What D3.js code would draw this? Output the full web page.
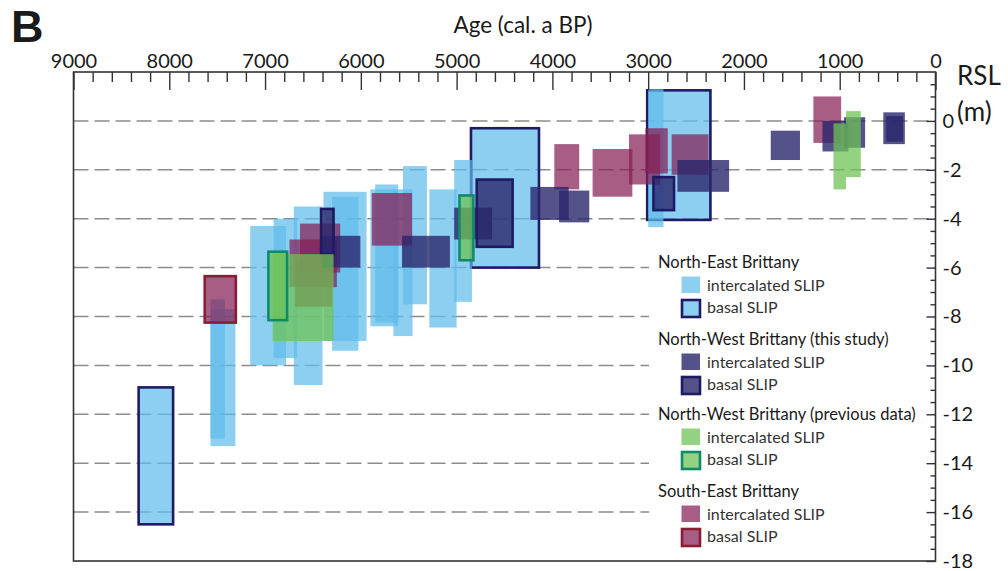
<!DOCTYPE html>
<html>
<head>
<meta charset="utf-8">
<script src="https://cdn.jsdelivr.net/npm/d3@7"></script>
<style>
  html, body { margin: 0; padding: 0; background: #fff; }
  svg { display: block; font-family: Lato, "Open Sans", sans-serif; }
</style>
</head>
<body>
<svg id="chart" width="1008" height="571"></svg>
<script>
// ---- Data: [older age, younger age, RSL top, RSL bottom] (cal. a BP, m) ----
const neBasal = [
  [8320, 7960, -10.9, -16.5],
  [4850, 4140, -0.3, -6.0],
  [3010, 2350, 1.25, -4.05]
];
const neIntercalated = [
  [7570, 7310, -7.7, -13.3],
  [7570, 7420, -7.3, -13.0],
  [7155, 6780, -4.3, -10.0],
  [6910, 6665, -4.0, -9.7],
  [6700, 6400, -3.5, -10.8],
  [6390, 5940, -2.9, -9.0],
  [6300, 6025, -3.1, -9.4],
  [5900, 5610, -2.8, -8.4],
  [5850, 5610, -2.6, -8.25],
  [5660, 5460, -2.8, -8.8],
  [5560, 5310, -1.85, -7.5],
  [5285, 5000, -2.8, -8.45],
  [5025, 4840, -1.6, -7.4],
  [3000, 2840, 1.3, -4.35]
];
const seIntercalated = [
  [6635, 6215, -4.2, -6.2],
  [6745, 6250, -4.85, -6.8],
  [6685, 6300, -5.55, -7.6],
  [5885, 5465, -2.95, -5.1],
  [3980, 3720, -0.95, -2.8],
  [3580, 3165, -1.15, -3.1],
  [3200, 2875, -0.55, -2.6],
  [3030, 2795, -0.3, -2.15],
  [2755, 2370, -0.55, -2.2],
  [1275, 985, 1.0, -0.9]
];
const seBasal = [
  [7630, 7305, -6.35, -8.25]
];
const nwIntercalated = [
  [6405, 6005, -4.7, -6.0],
  [5570, 5070, -4.7, -6.0],
  [5025, 4630, -3.55, -4.85],
  [4230, 3830, -2.7, -4.05],
  [3930, 3615, -2.85, -4.15],
  [2695, 2155, -1.6, -2.9],
  [1720, 1415, -0.4, -1.6],
  [1180, 910, 0.0, -1.25],
  [955, 735, 0.15, -1.1],
  [545, 320, 0.35, -0.95],
  [515, 340, 0.2, -0.85]
];
const nwBasal = [
  [6415, 6285, -3.6, -5.45],
  [4790, 4415, -2.4, -5.15],
  [2945, 2730, -2.3, -3.65]
];
const prevIntercalated = [
  [6920, 6285, -5.45, -9.0],
  [1065, 935, -0.1, -2.8],
  [935, 780, 0.4, -2.3]
];
const prevBasal = [
  [6965, 6770, -5.35, -8.15],
  [4970, 4825, -3.05, -5.7]
];

const xMajorTicks = [9000, 8000, 7000, 6000, 5000, 4000, 3000, 2000, 1000, 0];
const yMajorTicks = [0, -2, -4, -6, -8, -10, -12, -14, -16, -18];
const gridLevels = [0, -2, -4, -6, -8, -10, -12, -14, -16];

const legendGroups = [
  { title: "North-East Brittany", items: ["intercalated SLIP", "basal SLIP"] },
  { title: "North-West Brittany (this study)", items: ["intercalated SLIP", "basal SLIP"] },
  { title: "North-West Brittany (previous data)", items: ["intercalated SLIP", "basal SLIP"] },
  { title: "South-East Brittany", items: ["intercalated SLIP", "basal SLIP"] }
];

// ---- Styles ----
const C = {
  ne: "rgb(96,189,235)", neA: 0.72,
  nw: "rgb(42,37,108)", nwA: 0.8,
  pv: "rgb(110,195,85)", pvA: 0.75,
  se: "rgb(135,30,85)", seA: 0.72,
  neStroke: "#1e1b64", nwStroke: "#1e1b64", pvStroke: "#0f8a6a", seStroke: "#8a1c34"
};

const svg = d3.select("#chart");
const x = d3.scaleLinear().domain([9000, 0]).range([73.5, 935.5]);
const y = d3.scaleLinear().domain([2, -18]).range([72, 561]);

// gridlines
svg.append("g").selectAll("line").data(gridLevels).join("line")
  .attr("x1", x(9000)).attr("x2", x(0))
  .attr("y1", d => y(d)).attr("y2", d => y(d))
  .attr("stroke", "#8c8c8c").attr("stroke-width", 1.5)
  .attr("stroke-dasharray", "15,6");

function boxes(data, fill, alpha, stroke) {
  const g = svg.append("g");
  g.selectAll("rect").data(data).join("rect")
    .attr("x", d => x(d[0]))
    .attr("width", d => x(d[1]) - x(d[0]))
    .attr("y", d => y(d[2]))
    .attr("height", d => y(d[3]) - y(d[2]))
    .attr("fill", fill).attr("fill-opacity", alpha)
    .attr("stroke", stroke || "none")
    .attr("stroke-width", stroke ? 2.6 : 0);
}

boxes(neBasal, C.ne, C.neA, C.neStroke);
boxes(neIntercalated, C.ne, C.neA);
boxes(seIntercalated, C.se, C.seA);
boxes(seBasal, C.se, C.seA, C.seStroke);
boxes(nwIntercalated, C.nw, C.nwA);
boxes(nwBasal, C.nw, C.nwA, C.nwStroke);
boxes(prevIntercalated, C.pv, C.pvA);
boxes(prevBasal, C.pv, C.pvA, C.pvStroke);

// legend background
const lg = svg.append("g");
lg.append("rect").attr("x", 649).attr("y", 249).attr("width", 283).attr("height", 308).attr("fill", "#fff");

const legendFill = [
  [C.ne, C.neA, C.neStroke],
  [C.nw, C.nwA, C.nwStroke],
  [C.pv, C.pvA, C.pvStroke],
  [C.se, C.seA, C.seStroke]
];
const titleY = [268, 345, 420, 497];
legendGroups.forEach((grp, i) => {
  const ty = titleY[i];
  lg.append("text").attr("x", 658).attr("y", ty)
    .attr("font-size", 16.5).attr("fill", "#1a1a1a").text(grp.title);
  grp.items.forEach((it, j) => {
    const sy = ty + 8.5 + j * 22.5;
    const bordered = j === 1;
    lg.append("rect")
      .attr("x", bordered ? 682 : 681.5).attr("y", bordered ? sy + 1 : sy)
      .attr("width", bordered ? 18 : 18.5).attr("height", bordered ? 17 : 16.5)
      .attr("fill", legendFill[i][0]).attr("fill-opacity", legendFill[i][1])
      .attr("stroke", bordered ? legendFill[i][2] : "none")
      .attr("stroke-width", bordered ? 2.6 : 0);
    lg.append("text").attr("x", 707).attr("y", sy + 14)
      .attr("font-size", 16).attr("fill", "#333").text(it);
  });
});

// top axis
const topAxis = svg.append("g").attr("transform", `translate(0,${y(2)})`)
  .call(d3.axisTop(x).tickValues(xMajorTicks).tickSize(-18).tickPadding(4).tickFormat(d => String(d)))
  .call(g => g.select(".domain").remove());
topAxis.selectAll("line").attr("stroke", "#333").attr("stroke-width", 1.4);
topAxis.selectAll("text").attr("font-size", 20).attr("fill", "#1a1a1a").attr("font-family", "Lato, sans-serif");

const xMinor = d3.range(0, 9001, 200).filter(v => v % 1000 !== 0);
svg.append("g").attr("transform", `translate(0,${y(2)})`)
  .call(d3.axisTop(x).tickValues(xMinor).tickSize(-10).tickFormat(""))
  .call(g => g.select(".domain").remove())
  .selectAll("line").attr("stroke", "#333").attr("stroke-width", 1.4);

// right axis
const rightAxis = svg.append("g").attr("transform", `translate(${x(0)},0)`)
  .call(d3.axisRight(y).tickValues(yMajorTicks).tickSize(-9).tickPadding(7).tickFormat(d => String(d)))
  .call(g => g.select(".domain").remove());
rightAxis.selectAll("line").attr("stroke", "#333").attr("stroke-width", 1.4);
rightAxis.selectAll("text").attr("font-size", 20).attr("fill", "#1a1a1a").attr("font-family", "Lato, sans-serif");

const yMinor = d3.range(-36, 5).map(v => v / 2).filter(v => v % 2 !== 0);
svg.append("g").attr("transform", `translate(${x(0)},0)`)
  .call(d3.axisRight(y).tickValues(yMinor).tickSize(-5).tickFormat(""))
  .call(g => g.select(".domain").remove())
  .selectAll("line").attr("stroke", "#333").attr("stroke-width", 1.4);

// frame
svg.append("rect").attr("x", x(9000)).attr("y", y(2))
  .attr("width", x(0) - x(9000)).attr("height", y(-18) - y(2))
  .attr("fill", "none").attr("stroke", "#333").attr("stroke-width", 1.6);

// titles
svg.append("text").attr("x", 11).attr("y", 42).attr("font-size", 45)
  .attr("font-weight", 700).attr("font-family", "'Liberation Sans', Arial, sans-serif").attr("fill", "#1a1a1a").text("B");
svg.append("text").attr("x", 523).attr("y", 33).attr("text-anchor", "middle")
  .attr("font-size", 22.5).attr("fill", "#1a1a1a").text("Age (cal. a BP)");
svg.append("text").attr("x", 957).attr("y", 85).attr("font-size", 26).attr("fill", "#1a1a1a").text("RSL");
svg.append("text").attr("x", 957).attr("y", 121).attr("font-size", 26).attr("fill", "#1a1a1a").text("(m)");
</script>
</body>
</html>
